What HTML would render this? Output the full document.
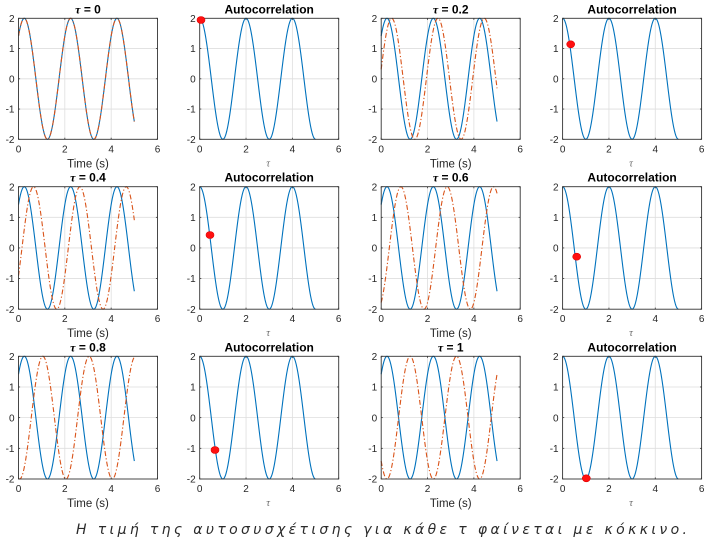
<!DOCTYPE html>
<html>
<head>
<meta charset="utf-8">
<style>
  html,body{margin:0;padding:0;background:#fff;}
  svg{display:block;}
  text{font-family:"Liberation Sans","DejaVu Sans",sans-serif;}
</style>
</head>
<body>
<svg id="s" width="720" height="540" viewBox="0 0 720 540" xmlns="http://www.w3.org/2000/svg">
  <rect x="0" y="0" width="720" height="540" fill="#fff"/>
  <g id="g"></g>
  <text x="76" y="534" textLength="611" lengthAdjust="spacing" font-size="14" font-style="italic" font-weight="200" fill="#2a2a2a" style="font-family:'DejaVu Sans','Liberation Sans',sans-serif;">Η τιμή της αυτοσυσχέτισης για κάθε τ φαίνεται με κόκκινο.</text>
</svg>
<script>
(function(){
  const L=[18.5,199.7,381.2,562.6], W=139;
  const T=[18.3,186.7,356.3], B=[139.3,309.2,479];
  const taus=[[0,0.2],[0.4,0.6],[0.8,1]];
  const tauLbl=[["0","0.2"],["0.4","0.6"],["0.8","1"]];
  const dots=[[[201,20],[570.7,44.3]],[[210,235],[576.7,256.7]],[[215,450],[586.3,478.3]]];
  const BLUE="#0072BD", ORANGE="#D95319";
  let s='';
  function path(f,X,Y,t0,t1,n){
    let d='';
    for(let i=0;i<=n;i++){
      const t=t0+(t1-t0)*i/n;
      d+=(i?'L':'M')+X(t).toFixed(2)+' '+Y(f(t)).toFixed(2);
    }
    return d;
  }
  for(let r=0;r<3;r++){
    for(let c=0;c<4;c++){
      const l=L[c], t=T[r], b=B[r], w=W, h=b-t;
      const X=v=>l+v/6*w, Y=v=>t+(2-v)/4*h;
      // background
      s+=`<rect x="${l}" y="${t}" width="${w}" height="${h}" fill="#fff"/>`;
      // grid
      for(const v of [2,4]) s+=`<line x1="${X(v)}" y1="${t}" x2="${X(v)}" y2="${b}" stroke="#dedede" stroke-width="0.8"/>`;
      for(const v of [-1,0,1]) s+=`<line x1="${l}" y1="${Y(v)}" x2="${l+w}" y2="${Y(v)}" stroke="#dedede" stroke-width="0.8"/>`;
      const pair=Math.floor(c/2);
      const tau=taus[r][pair];
      if(c%2===0){
        const f1=x=>2*Math.sin(Math.PI*x+Math.PI/4);
        const f2=x=>2*Math.sin(Math.PI*(x-tau)+Math.PI/4);
        s+=`<path d="${path(f1,X,Y,0,5,300)}" fill="none" stroke="${BLUE}" stroke-width="1.1" stroke-linejoin="round"/>`;
        s+=`<path d="${path(f2,X,Y,0,5,300)}" fill="none" stroke="${ORANGE}" stroke-width="1.1" stroke-dasharray="5 2.2 1.2 2.2" stroke-linejoin="round"/>`;
      } else {
        const g=x=>2*Math.cos(Math.PI*x);
        s+=`<path d="${path(g,X,Y,0,5,300)}" fill="none" stroke="${BLUE}" stroke-width="1.1" stroke-linejoin="round"/>`;
      }
      // box
      s+=`<rect x="${l}" y="${t}" width="${w}" height="${h}" fill="none" stroke="#333" stroke-width="0.9"/>`;
      // ticks
      for(const v of [0,2,4,6]){
        const x=X(v);
        s+=`<line x1="${x}" y1="${b}" x2="${x}" y2="${b-1.6}" stroke="#333" stroke-width="0.8"/>`;
        s+=`<line x1="${x}" y1="${t}" x2="${x}" y2="${t+1.6}" stroke="#333" stroke-width="0.8"/>`;
        s+=`<text x="${x}" y="${b+13}" font-size="10" fill="#262626" text-anchor="middle">${v}</text>`;
      }
      for(const v of [-2,-1,0,1,2]){
        const y=Y(v);
        s+=`<line x1="${l}" y1="${y}" x2="${l+1.6}" y2="${y}" stroke="#333" stroke-width="0.8"/>`;
        s+=`<line x1="${l+w}" y1="${y}" x2="${l+w-1.6}" y2="${y}" stroke="#333" stroke-width="0.8"/>`;
        s+=`<text x="${l-4}" y="${y+3.6}" font-size="10" fill="#262626" text-anchor="end">${v<0?'-'+(-v):v}</text>`;
      }
      // labels
      const cx=l+w/2;
      if(c%2===0){
        s+=`<text x="${cx}" y="${t-5}" font-size="12" font-weight="bold" fill="#000" text-anchor="middle"><tspan style="font-family:'Liberation Serif',serif" font-style="italic">τ</tspan> = ${tauLbl[r][pair]}</text>`;
        s+=`<text x="${cx}" y="${b+28}" font-size="11.5" fill="#262626" text-anchor="middle">Time (s)</text>`;
      } else {
        s+=`<text x="${cx}" y="${t-5}" font-size="12" font-weight="bold" fill="#000" text-anchor="middle">Autocorrelation</text>`;
        s+=`<text x="${cx-1}" y="${b+27}" font-size="10" font-style="italic" fill="#666" text-anchor="middle" style="font-family:'Liberation Serif',serif">τ</text>`;
        const d=dots[r][pair];
        s+=`<ellipse cx="${d[0]}" cy="${d[1]}" rx="4" ry="3.5" fill="#ff1010" stroke="#e00000" stroke-width="0.6"/>`;
      }
    }
  }
  document.getElementById('g').innerHTML=s;
})();
</script>
</body>
</html>
